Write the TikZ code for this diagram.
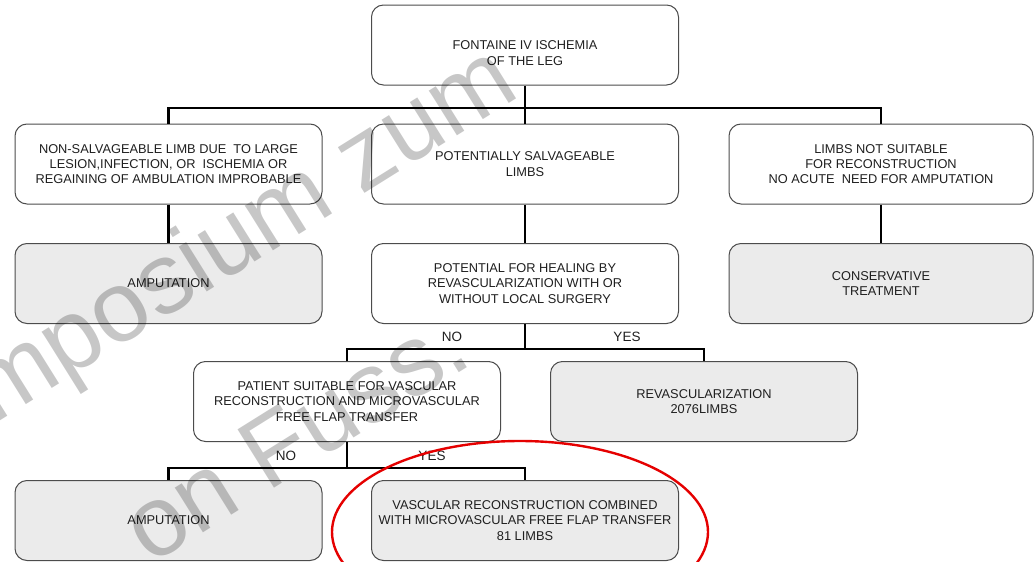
\documentclass[tikz,border=0pt]{standalone}
\usepackage{fontspec}
\setmainfont{Liberation Sans}
\begin{document}
\begin{tikzpicture}[x=1pt,y=-1pt,
  box/.style={draw=black!70, line width=1pt, rounded corners=12pt, minimum width=307pt,
    minimum height=80pt, align=center, inner sep=0pt, text=black!88, font=\fontsize{12.8}{15.3}\selectfont},
  gbox/.style={box, fill=black!8},
  conn/.style={line width=2.6pt, black},
  lbl/.style={font=\fontsize{13.5}{14}\selectfont, inner sep=0pt, text=black!88},
  wm/.style={font=\fontsize{100}{100}\selectfont, text=black, opacity=0.22, rotate=32, anchor=base west, inner sep=0pt}]
\useasboundingbox (0,0) rectangle (1034,562);
% nodes
\node[box] (top) at (525,45) {};
\node[font=\fontsize{12.8}{15.3}\selectfont, text=black!88, align=center, inner sep=0pt] (toptext) at (525,53) {FONTAINE IV ISCHEMIA\\OF THE LEG};
\node[box] (nons) at (168.5,164) {NON-SALVAGEABLE LIMB DUE~ TO LARGE\\LESION,INFECTION, OR~ ISCHEMIA OR\\REGAINING OF AMBULATION IMPROBABLE};
\node[box] (pots) at (525,164) {POTENTIALLY SALVAGEABLE\\LIMBS};
\node[box, minimum width=304pt] (notsuit) at (881,164) {LIMBS NOT SUITABLE\\FOR RECONSTRUCTION\\NO ACUTE~ NEED FOR AMPUTATION};
\node[gbox] (amp1) at (168.5,283.5) {AMPUTATION};
\node[box] (heal) at (525,283.5) {POTENTIAL FOR HEALING BY\\REVASCULARIZATION WITH OR\\WITHOUT LOCAL SURGERY};
\node[gbox, minimum width=304pt] (cons) at (881,283.5) {CONSERVATIVE\\TREATMENT};
\node[box] (pat) at (347,401.5) {PATIENT SUITABLE FOR VASCULAR\\RECONSTRUCTION AND MICROVASCULAR\\FREE FLAP TRANSFER};
\node[gbox] (revasc) at (704,401.5) {REVASCULARIZATION\\2076LIMBS};
\node[gbox] (amp2) at (168.5,520.5) {AMPUTATION};
\node[gbox] (vasc) at (525,520.5) {VASCULAR RECONSTRUCTION COMBINED\\WITH MICROVASCULAR FREE FLAP TRANSFER\\81 LIMBS};
% connectors
\coordinate (bus1) at (525,108);
\coordinate (bus2) at (525,349);
\coordinate (bus3) at (347,468);
\draw[conn] (top.south) -- (pots.north);
\draw[conn] (nons.north) -- (nons.north |- bus1) -- (notsuit.north |- bus1) -- (notsuit.north);
\draw[conn] (nons.south) -- (amp1.north);
\draw[conn] (pots.south) -- (heal.north);
\draw[conn] (notsuit.south) -- (cons.north);
\draw[conn] (heal.south) -- (bus2);
\draw[conn] (pat.north) -- (pat.north |- bus2) -- (revasc.north |- bus2) -- (revasc.north);
\draw[conn] (pat.south) -- (bus3);
\draw[conn] (amp2.north) -- (amp2.north |- bus3) -- (vasc.north |- bus3) -- (vasc.north);
% labels
\node[lbl] (no1) at (452,337) {NO};
\node[lbl] (yes1) at (627,337) {YES};
\node[lbl] (no2) at (286,456) {NO};
\node[lbl] (yes2) at (432,456) {YES};
% watermark
\node[wm] (wm1) at (-6,425) {mposium zum};
\node[wm] (wm2) at (150,566) {on Fuss.};
% red ellipse
\draw[red!90!black, line width=2.4pt] (520,532) ellipse [x radius=188, y radius=91];
\end{tikzpicture}
\end{document}
